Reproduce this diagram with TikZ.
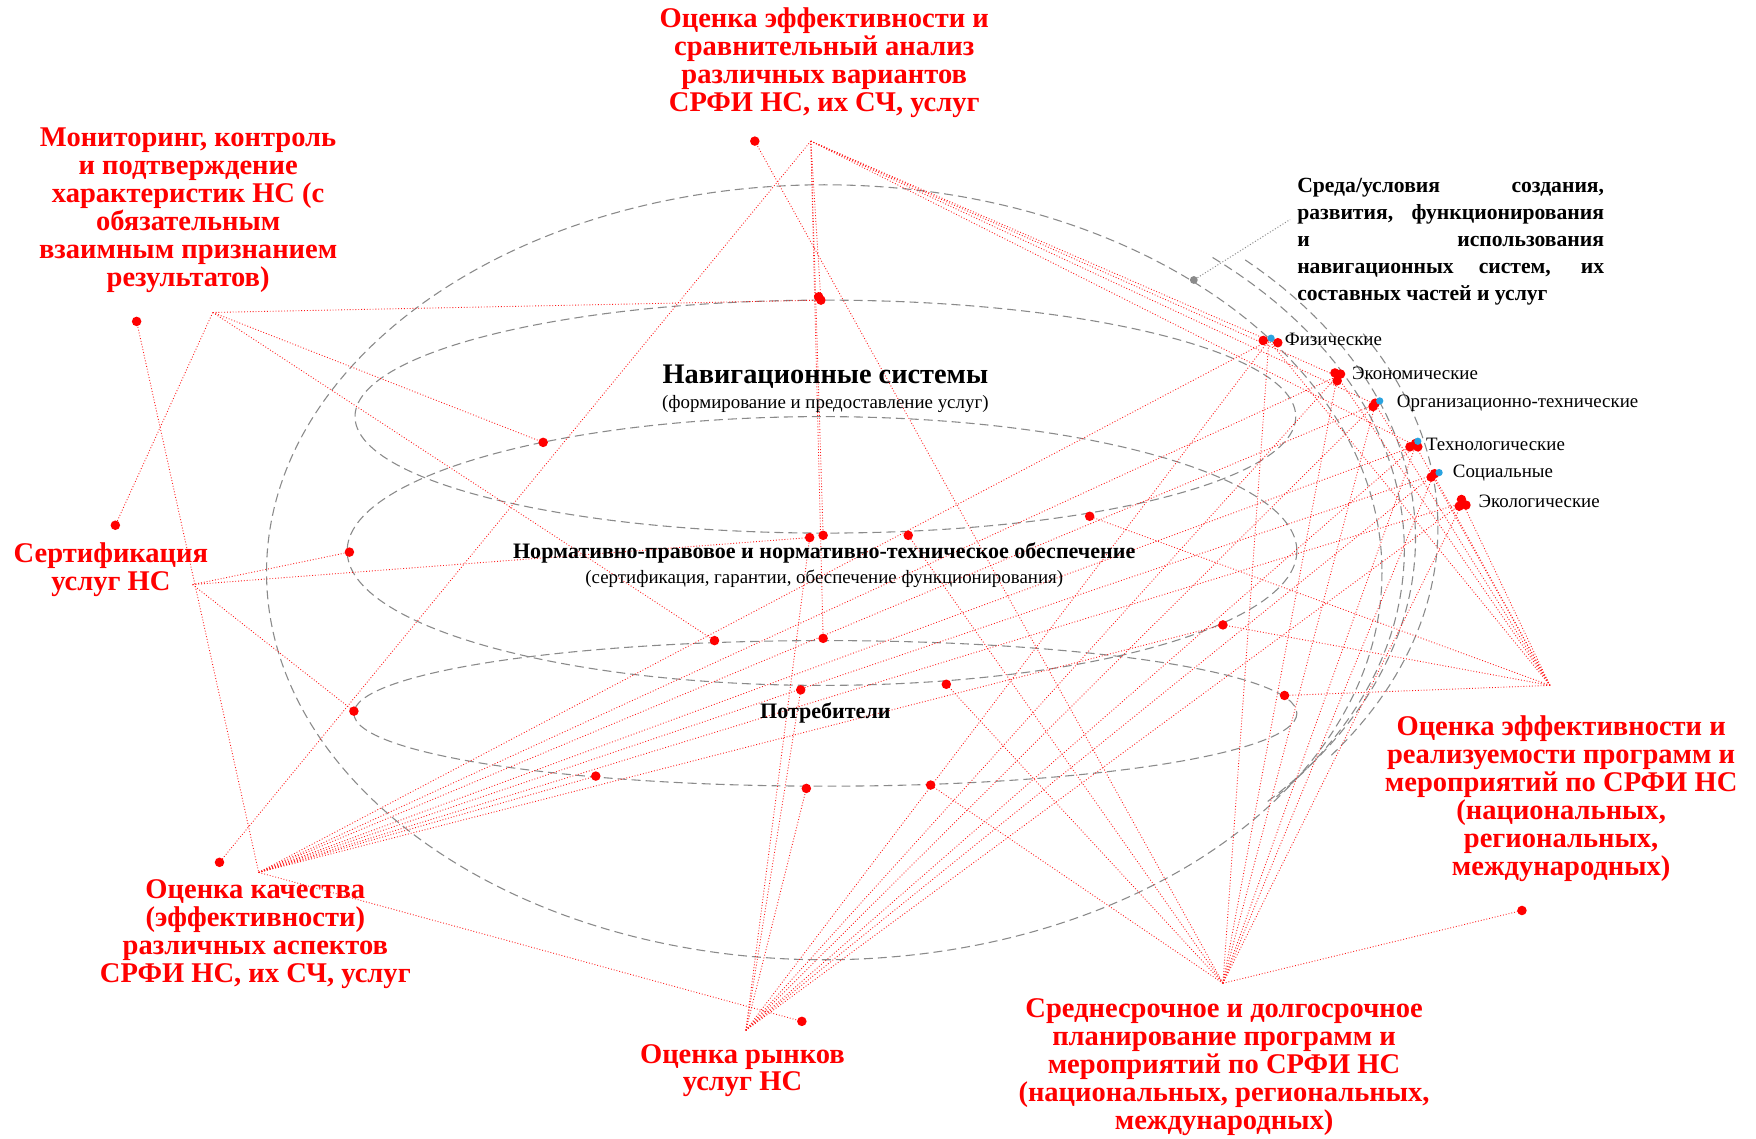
\documentclass[tikz,border=0pt]{standalone}
\usepackage{fontspec}
\setmainfont{Liberation Serif}
\usepackage{xcolor}
\definecolor{linkred}{HTML}{FF1A1A}
\definecolor{dotred}{HTML}{FF0000}
\definecolor{ringgray}{HTML}{8A8A8A}
\definecolor{factblue}{HTML}{2AA3DF}
\usetikzlibrary{positioning}
\tikzset{
  link/.style   = {draw=linkred,densely dotted,line width=0.45pt},
  ring/.style   = {draw=ringgray,dash pattern=on 1.6mm off 0.9mm,line width=0.55pt},
  pt/.style     = {circle,fill=dotred,inner sep=0pt,minimum size=1.7mm},
  bpt/.style    = {circle,fill=factblue,inner sep=0pt,minimum size=1.3mm},
  gpt/.style    = {circle,fill=ringgray,inner sep=0pt,minimum size=1.4mm},
  task/.style   = {text=dotred,font=\bfseries\fontsize{14.5}{14.2}\selectfont,
                   align=center,inner sep=0pt},
  title/.style  = {font=\bfseries\fontsize{14.4}{17}\selectfont,inner sep=0pt},
  sub/.style    = {font=\fontsize{9.6}{12}\selectfont,inner sep=0pt},
  layer/.style  = {font=\bfseries\fontsize{11.2}{13}\selectfont,inner sep=0pt},
  factor/.style = {font=\fontsize{9.6}{12}\selectfont,anchor=west,inner sep=0pt},
  envtxt/.style = {font=\bfseries\fontsize{11}{13.7}\selectfont,anchor=west,
                   text width=54.8mm,align=justify,inner sep=0pt},
}
\newcommand{\pin}[3]{\coordinate (#1) at (#2,#3);}

\begin{document}
\begin{tikzpicture}[x=0.2mm,y=-0.2mm]
  \useasboundingbox (0,0) rectangle (1568,1017);

  % dashed rings
  \draw[ring] (736,511) ellipse [x radius=498,y radius=346];
  \draw[ring] plot[domain=-49:40,samples=50] ({756+498*cos(\x)},{491+346*sin(\x)});
  \draw[ring] plot[domain=-46:43,samples=50] ({766+498*cos(\x)},{481+346*sin(\x)});
  \draw[ring] plot[domain=-30:36,samples=50] ({786+498*cos(\x)},{471+346*sin(\x)});
  \draw[ring] (737,372) ellipse [x radius=420,y radius=104];
  \draw[ring] (734,492) ellipse [x radius=424,y radius=120];
  \draw[ring] (737,637) ellipse [x radius=421,y radius=65];

  % hubs under the red captions
  \pin{hT}{724}{126}  \pin{hTL}{190}{279} \pin{hC}{172}{522}
  \pin{hQ}{231}{779}  \pin{hM}{666}{920}  \pin{hB}{1092}{878}
  \pin{hR}{1384}{612}
  % loose ends
  \pin{dT}{674}{126}  \pin{dTL}{122}{287} \pin{dC}{103}{469}
  \pin{dQ}{196}{770}  \pin{dM}{716}{912}  \pin{dR}{1359}{813}
  % points on the rings
  \pin{nTop}{733}{268} \pin{nBotA}{723}{480} \pin{nBotB}{735}{478}
  \pin{nBotC}{811}{478}
  \pin{rTL}{485}{395}  \pin{rL}{312}{493}   \pin{rTR}{973}{461}
  \pin{rBR}{1092}{558} \pin{rBC}{715}{616}  \pin{rBD}{845}{611}
  \pin{pTA}{638}{572}  \pin{pTB}{735}{570}
  \pin{pL}{316}{635}   \pin{pR}{1147}{621}
  \pin{pBA}{532}{693}  \pin{pBB}{720}{704}  \pin{pBC}{831}{701}
  % environment factors
  \pin{fiz}{1133}{304} \pin{eco}{1194}{336} \pin{org}{1228}{361}
  \pin{tech}{1264}{398} \pin{soc}{1280}{424} \pin{ecol}{1306}{449}

  % links
  \foreach \t in {dQ,nTop,nBotB,pTB,fiz,eco,org,tech}
    \draw[link] (hT) -- (\t);
  \foreach \t in {dC,nTop,rTL,pTA}
    \draw[link] (hTL) -- (\t);
  \foreach \t in {rL,nBotA,pL}
    \draw[link] (hC) -- (\t);
  \foreach \t in {dM,pBA,rBR,fiz,eco,org,tech,soc,ecol}
    \draw[link] (hQ) -- (\t);
  \foreach \t in {pBB,rBC,nBotA,fiz,eco,org,tech,soc,ecol}
    \draw[link] (hM) -- (\t);
  \foreach \t in {dR,pBC,rBD,nBotC,fiz,eco,org,tech,soc,ecol}
    \draw[link] (hB) -- (\t);
  \foreach \t in {pR,rBR,rTR,fiz,eco,org,tech,soc,ecol}
    \draw[link] (hR) -- (\t);
  \draw[link] (dT) -- (hB);
  \draw[link] (dTL) -- (hQ);

  % dots
  \foreach \p in {dT,dTL,dC,dQ,dM,dR,nTop,nBotA,nBotB,nBotC,rTL,rL,rTR,
                  rBR,rBC,rBD,pTA,pTB,pL,pR,pBA,pBB,pBC}
    \node[pt] at (\p) {};
  \node[pt] at (731,265) {};
  \foreach \x/\y in {1128/304,1141/306,1192/333,1197/334,1194/340,
                     1226/363,1228/360,1259/399,1266/399,1264/396,
                     1278/426,1281/423,1305/446,1303/452,1309/451}
    \node[pt] at (\x,\y) {};
  \foreach \x/\y in {1135/302,1232/358,1266/394,1285/422}
    \node[bpt] at (\x,\y) {};

  % environment note
  \node[gpt] (envpt) at (1066,250) {};
  \coordinate (envtip) at (1152,196);
  \draw[ringgray,densely dotted,line width=0.5pt] (envpt) -- (envtip);
  \node[envtxt] (env) at (1158,216)
    {Среда/условия создания,\linebreak развития, функционирования\linebreak
     и использования\linebreak навигационных систем, их\linebreak
     составных частей и услуг};

  \node[factor] (lfiz)  at (1147,303) {Физические};
  \node[factor] (leco)  at (1207,333) {Экономические};
  \node[factor] (lorg)  at (1247,360) {Организационно-технические};
  \node[factor] (ltech) at (1273,397) {Технологические};
  \node[factor] (lsoc)  at (1297,422) {Социальные};
  \node[factor] (lecol) at (1320,448) {Экологические};

  % ring captions
  \node[title] (ns)   at (737,336) {Навигационные системы};
  \node[sub]   (nss)  at (737,361) {(формирование и предоставление услуг)};
  \node[layer] (norm) at (736,494)
    {Нормативно-правовое и нормативно-техническое обеспечение};
  \node[sub]   (norms) at (736,517)
    {(сертификация, гарантии, обеспечение функционирования)};
  \node[layer] (cons) at (737,637) {Потребители};

  % red captions
  \node[task] (tT) at (736,56)
    {Оценка эффективности и\\сравнительный анализ\\различных вариантов\\СРФИ НС, их СЧ, услуг};
  \node[task] (tTL) at (168,188)
    {Мониторинг, контроль\\и подтверждение\\характеристик НС (с\\обязательным\\взаимным признанием\\результатов)};
  \node[task] (tC) at (99,509)
    {Сертификация\\услуг НС};
  \node[task] (tQ) at (228,834)
    {Оценка качества\\(эффективности)\\различных аспектов\\СРФИ НС, их СЧ, услуг};
  \node[task] (tM) at (663,956)
    {Оценка рынков\\услуг НС};
  \node[task] (tB) at (1093,953)
    {Среднесрочное и долгосрочное\\планирование программ и\\мероприятий по СРФИ НС\\(национальных, региональных,\\международных)};
  \node[task] (tR) at (1394,713)
    {Оценка эффективности и\\реализуемости программ и\\мероприятий по СРФИ НС\\(национальных,\\региональных,\\международных)};
\end{tikzpicture}
\end{document}
